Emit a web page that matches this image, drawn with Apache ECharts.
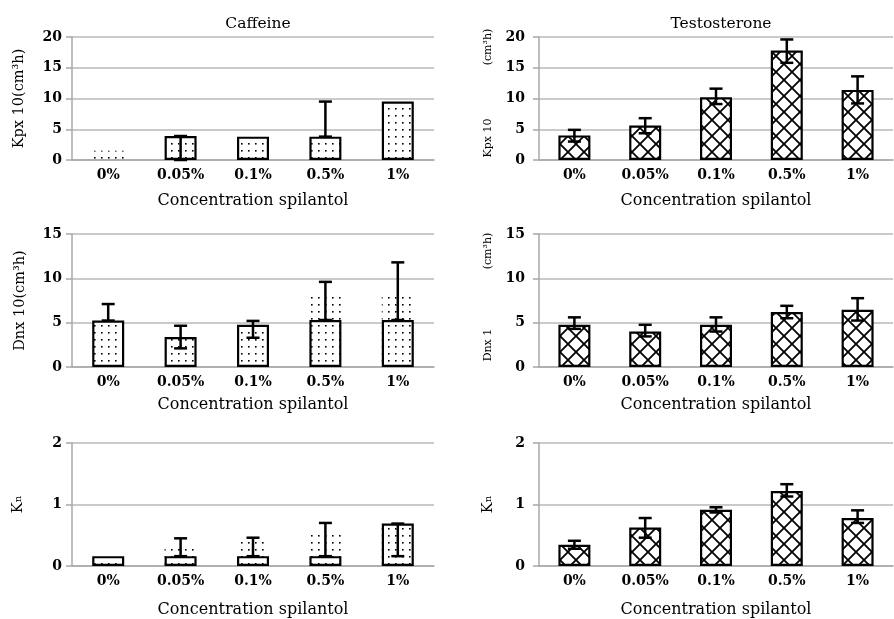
<!DOCTYPE html>
<html><head><meta charset="utf-8">
<script src="https://cdn.jsdelivr.net/npm/echarts@6/dist/echarts.min.js"></script>
<style>html,body{margin:0;padding:0;background:#fff}#c{width:894px;height:619px}</style>
</head><body><div id="c"></div>
<script>
const categories = ['0%', '0.05%', '0.1%', '0.5%', '1%'];

// Caffeine panels
const cafKpx = [null, 3.9, 3.8, 3.8, 9.5];
const cafKpxGhost = [1.5, null, null, null, null];
const cafKpxErrLow = [null, 0, null, 3.8, null];
const cafKpxErrHigh = [null, 3.9, null, 9.5, null];

const cafDnx = [5.24, 3.37, 4.76, 5.3, 5.3];
const cafDnxGhost = [null, null, null, 8.1, 8.1];
const cafDnxErrLow = [5.24, 2.1, 3.3, 5.3, 5.3];
const cafDnxErrHigh = [7.1, 4.65, 5.2, 9.6, 11.8];

const cafKn = [0.16, 0.16, 0.16, 0.16, 0.69];
const cafKnGhost = [null, 0.35, 0.45, 0.53, 0.69];
const cafKnErrLow = [null, 0.16, 0.16, 0.16, 0.16];
const cafKnErrHigh = [null, 0.45, 0.46, 0.70, 0.69];

// Testosterone panels
const tesKpx = [4.0, 5.6, 10.2, 17.8, 11.4];
const tesKpxErrLow = [3.0, 4.35, 9.1, 15.8, 9.2];
const tesKpxErrHigh = [4.9, 6.8, 11.6, 19.6, 13.6];

const tesDnx = [4.76, 4.0, 4.76, 6.2, 6.45];
const tesDnxErrLow = [4.3, 3.45, 4.0, 5.5, 5.24];
const tesDnxErrHigh = [5.6, 4.76, 5.6, 6.9, 7.76];

const tesKn = [0.345, 0.625, 0.915, 1.22, 0.78];
const tesKnErrLow = [0.28, 0.46, 0.87, 1.13, 0.70];
const tesKnErrHigh = [0.41, 0.78, 0.955, 1.33, 0.905];

const yMax = [20, 20, 15, 15, 2, 2];
const yInterval = [5, 5, 5, 5, 1, 1];

function dotPattern(bg) {
  const c = document.createElement('canvas'); c.width = 7; c.height = 7;
  const g = c.getContext('2d');
  if (bg) { g.fillStyle = '#fff'; g.fillRect(0, 0, 7, 7); }
  g.fillStyle = '#000'; g.fillRect(3, 3, 1.6, 1.6);
  return c;
}
function crossPattern() {
  const s = 16;
  const c = document.createElement('canvas'); c.width = s; c.height = s;
  const g = c.getContext('2d');
  g.fillStyle = '#fff'; g.fillRect(0, 0, s, s);
  g.strokeStyle = '#000'; g.lineWidth = 1.8;
  g.beginPath();
  g.moveTo(-2, -2); g.lineTo(s + 2, s + 2);
  g.moveTo(s + 2, -2); g.lineTo(-2, s + 2);
  g.stroke();
  return c;
}
const dotFill = { image: dotPattern(true), repeat: 'repeat' };
const ghostFill = { image: dotPattern(false), repeat: 'repeat' };
const crossFill = { image: crossPattern(), repeat: 'repeat' };

const grids = [
  { left: 72, top: 37, width: 362, height: 123 },
  { left: 539, top: 37, width: 354, height: 123 },
  { left: 72, top: 234, width: 362, height: 133 },
  { left: 539, top: 234, width: 354, height: 133 },
  { left: 72, top: 443, width: 362, height: 131 },
  { left: 539, top: 443, width: 354, height: 131 }
];
const nameGaps = [33, 33, 30, 30, 36, 36];
const yNames = ['Kpx 10(cm³h)', '', 'Dnx 10(cm³h)', '', 'K{s|n}', 'K{s|n}'];
const yNameGaps = [45, 0, 44, 0, 46, 43];

const serif = 'DejaVu Serif';

const xAxes = grids.map((g, i) => ({
  type: 'category', gridIndex: i, data: categories,
  axisLine: { show: true, lineStyle: { color: '#a8a8a8', width: 1.5 } },
  axisTick: { show: false },
  axisLabel: { color: '#000', fontFamily: serif, fontWeight: 'bold', fontSize: 14, margin: 8 },
  name: 'Concentration spilantol', nameLocation: 'middle', nameGap: nameGaps[i],
  nameTextStyle: { color: '#000', fontFamily: serif, fontSize: 16 }
}));
const yAxes = grids.map((g, i) => ({
  type: 'value', gridIndex: i, min: 0, max: yMax[i], interval: yInterval[i],
  axisLine: { show: true, lineStyle: { color: '#a8a8a8', width: 1.5 } },
  axisTick: { show: true, length: 6, lineStyle: { color: '#a8a8a8', width: 1.5 } },
  splitLine: { show: true, lineStyle: { color: '#b8b8b8', width: 1.5 } },
  axisLabel: { color: '#000', fontFamily: serif, fontWeight: 'bold', fontSize: 14, margin: (i % 2) ? 14 : 10 },
  name: yNames[i], nameLocation: 'middle', nameGap: yNameGaps[i],
  nameTextStyle: { color: '#000', fontFamily: serif, fontSize: 14.5, rich: { s: { fontFamily: serif, fontSize: 10, color: '#000' } } }
}));

function errItem(params, api) {
  const x = api.value(0), lo = api.value(1), hi = api.value(2);
  const pH = api.coord([x, hi]), pL = api.coord([x, lo]);
  const w = 6.5;
  const st = { stroke: '#000', lineWidth: 2.5 };
  return { type: 'group', children: [
    { type: 'line', shape: { x1: pH[0], y1: pH[1], x2: pL[0], y2: pL[1] }, style: st },
    { type: 'line', shape: { x1: pH[0] - w, y1: pH[1], x2: pH[0] + w, y2: pH[1] }, style: st },
    { type: 'line', shape: { x1: pL[0] - w, y1: pL[1], x2: pL[0] + w, y2: pL[1] }, style: st }
  ]};
}
function errData(lo, hi) {
  const out = [];
  lo.forEach((v, k) => { if (v != null && hi[k] != null) out.push([k, v, hi[k]]); });
  return out;
}
function barSeries(i, data, fill) {
  return { type: 'bar', xAxisIndex: i, yAxisIndex: i, data: data, barWidth: 32, barGap: '-100%', z: 3,
    itemStyle: { color: fill, borderColor: '#000', borderWidth: 2.2 }, silent: true };
}
function ghostSeries(i, data) {
  return { type: 'bar', xAxisIndex: i, yAxisIndex: i, data: data, barWidth: 32, barGap: '-100%', z: 2,
    itemStyle: { color: ghostFill, borderWidth: 0 }, silent: true };
}
function errSeries(i, lo, hi) {
  return { type: 'custom', xAxisIndex: i, yAxisIndex: i, data: errData(lo, hi), renderItem: errItem, z: 5, silent: true };
}

const series = [
  ghostSeries(0, cafKpxGhost), barSeries(0, cafKpx, dotFill), errSeries(0, cafKpxErrLow, cafKpxErrHigh),
  barSeries(1, tesKpx, crossFill), errSeries(1, tesKpxErrLow, tesKpxErrHigh),
  ghostSeries(2, cafDnxGhost), barSeries(2, cafDnx, dotFill), errSeries(2, cafDnxErrLow, cafDnxErrHigh),
  barSeries(3, tesDnx, crossFill), errSeries(3, tesDnxErrLow, tesDnxErrHigh),
  ghostSeries(4, cafKnGhost), barSeries(4, cafKn, dotFill), errSeries(4, cafKnErrLow, cafKnErrHigh),
  barSeries(5, tesKn, crossFill), errSeries(5, tesKnErrLow, tesKnErrHigh)
];

function vText(x, y, text, size) {
  return { type: 'text', x: x, y: y, rotation: Math.PI / 2,
    style: { text: text, fill: '#000', font: size + 'px "DejaVu Serif"', align: 'center', verticalAlign: 'middle' } };
}

const chart = echarts.init(document.getElementById('c'), null, { renderer: 'canvas' });
chart.setOption({
  animation: false,
  backgroundColor: '#fff',
  title: [
    { text: 'Caffeine', left: 253, top: 11, textAlign: 'center', textStyle: { fontFamily: serif, fontWeight: 'normal', fontSize: 15.5, color: '#000' } },
    { text: 'Testosterone', left: 716, top: 11, textAlign: 'center', textStyle: { fontFamily: serif, fontWeight: 'normal', fontSize: 15.5, color: '#000' } }
  ],
  grid: grids,
  xAxis: xAxes,
  yAxis: yAxes,
  series: series,
  graphic: [
    vText(488, 47, '(cm³h)', 11), vText(488, 138, 'Kpx 10', 11),
    vText(488, 251, '(cm³h)', 11), vText(488, 345, 'Dnx 1', 11)
  ]
});
</script></body></html>
